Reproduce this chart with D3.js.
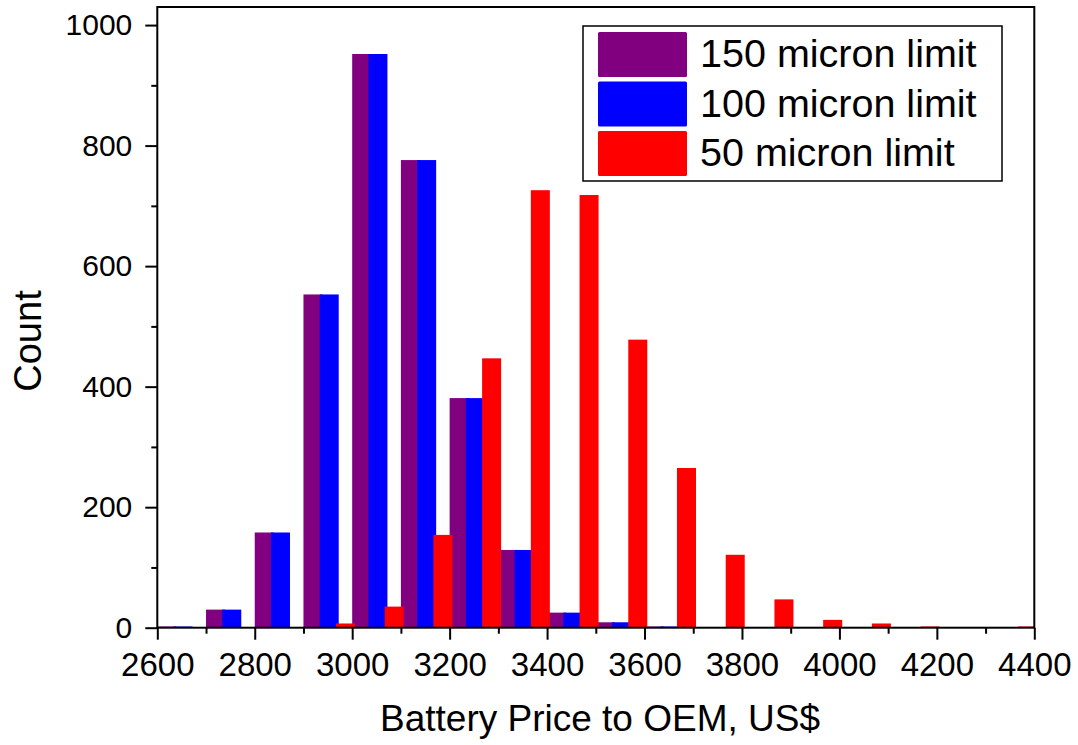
<!DOCTYPE html>
<html>
<head>
<meta charset="utf-8">
<script src="https://cdn.jsdelivr.net/npm/d3@7"></script>
<style>
  html, body { margin: 0; padding: 0; background: #fff; }
  svg { display: block; font-family: "Liberation Sans", Arial, sans-serif; }
</style>
</head>
<body>
<svg id="chart" width="1078" height="745"></svg>
<script>
// Histogram bins (lower edge of each 100 US$ bin)
const binStarts = [2600, 2700, 2800, 2900, 3000, 3100, 3200, 3300, 3400,
                   3500, 3600, 3700, 3800, 3900, 4000, 4100, 4200, 4300];

// Counts per bin for each particle-size limit
const count150 = [2, 30, 158, 553, 952, 776, 381, 129, 25, 9, 2, 0, 0, 0, 0, 0, 0, 0];
const count100 = [2, 30, 158, 553, 952, 776, 381, 129, 25, 9, 2, 0, 0, 0, 0, 0, 0, 0];
const count50  = [0, 0, 0, 7, 35, 154, 447, 726, 718, 478, 265, 121, 47, 13, 7, 2, 0, 2];

const seriesNames = ["150 micron limit", "100 micron limit", "50 micron limit"];
const seriesColors = ["#800080", "#0000ff", "#ff0000"];

const xMajorTicks = [2600, 2800, 3000, 3200, 3400, 3600, 3800, 4000, 4200, 4400];
const yMajorTicks = [0, 200, 400, 600, 800, 1000];

const binWidth = 100;
const seriesOffset = binWidth / 3;
const barUnits = 39;

const svg = d3.select("#chart");
const plot = { left: 157.3, right: 1034.3, top: 7, bottom: 627.7 };

const x = d3.scaleLinear().domain([2600, 4400]).range([plot.left, plot.right]);
const y = d3.scaleLinear().domain([0, 1030]).range([plot.bottom, plot.top]);

svg.append("defs").append("clipPath").attr("id", "plotClip")
  .append("rect")
  .attr("x", plot.left).attr("y", plot.top)
  .attr("width", plot.right - plot.left).attr("height", plot.bottom - plot.top);

const series = [count150, count100, count50].map((vals, i) => ({
  name: seriesNames[i],
  color: seriesColors[i],
  bars: binStarts.map((b, j) => ({ start: b + i * seriesOffset, value: vals[j] }))
}));

const barsG = svg.append("g").attr("clip-path", "url(#plotClip)");
series.forEach(s => {
  barsG.append("g")
    .selectAll("rect")
    .data(s.bars.filter(d => d.value > 0))
    .join("rect")
    .attr("x", d => x(d.start))
    .attr("width", d => x(d.start + barUnits) - x(d.start))
    .attr("y", d => y(d.value))
    .attr("height", d => y(0) - y(d.value))
    .attr("fill", s.color);
});

// Axes: major ticks with labels, minor ticks without
const xMinor = d3.range(2700, 4400, 200);
const yMinor = d3.range(100, 1000, 200);

function styleAxis(g) {
  g.select(".domain").remove();
  g.selectAll("line").attr("stroke", "#000").attr("stroke-width", 2);
  g.selectAll("text").attr("fill", "#000");
}

svg.append("g")
  .attr("transform", `translate(0,${plot.bottom})`)
  .call(d3.axisBottom(x).tickValues(xMajorTicks).tickSize(12).tickPadding(12.5).tickFormat(d3.format("d")))
  .call(styleAxis)
  .call(g => g.selectAll("text").attr("font-size", 33));

svg.append("g")
  .attr("transform", `translate(0,${plot.bottom})`)
  .call(d3.axisBottom(x).tickValues(xMinor).tickSize(6).tickFormat(""))
  .call(styleAxis);

svg.append("g")
  .attr("transform", `translate(${plot.left},0)`)
  .call(d3.axisLeft(y).tickValues(yMajorTicks).tickSize(12).tickPadding(13).tickFormat(d3.format("d")))
  .call(styleAxis)
  .call(g => g.selectAll("text").attr("font-size", 30));

svg.append("g")
  .attr("transform", `translate(${plot.left},0)`)
  .call(d3.axisLeft(y).tickValues(yMinor).tickSize(6).tickFormat(""))
  .call(styleAxis);

// Frame around the plot area
svg.append("rect")
  .attr("x", plot.left).attr("y", plot.top)
  .attr("width", plot.right - plot.left).attr("height", plot.bottom - plot.top)
  .attr("fill", "none").attr("stroke", "#000").attr("stroke-width", 2);

// Axis titles
svg.append("text")
  .attr("x", 600).attr("y", 731)
  .attr("text-anchor", "middle")
  .attr("font-size", 37)
  .text("Battery Price to OEM, US$");

svg.append("text")
  .attr("transform", "translate(41,341) rotate(-90)")
  .attr("text-anchor", "middle")
  .attr("font-size", 38)
  .text("Count");

// Legend
const legend = svg.append("g");
legend.append("rect")
  .attr("x", 583).attr("y", 26).attr("width", 419).attr("height", 155)
  .attr("fill", "#fff").attr("stroke", "#000").attr("stroke-width", 1.5);

const items = legend.selectAll("g.item")
  .data(series)
  .join("g")
  .attr("class", "item")
  .attr("transform", (d, i) => `translate(0,${i * 49.5})`);

items.append("rect")
  .attr("x", 598).attr("y", 32).attr("width", 89).attr("height", 45)
  .attr("rx", 1.5)
  .attr("fill", d => d.color);

items.append("text")
  .attr("x", 700).attr("y", 67)
  .attr("font-size", 39.5)
  .attr("fill", "#000")
  .text(d => d.name);
</script>
</body>
</html>
